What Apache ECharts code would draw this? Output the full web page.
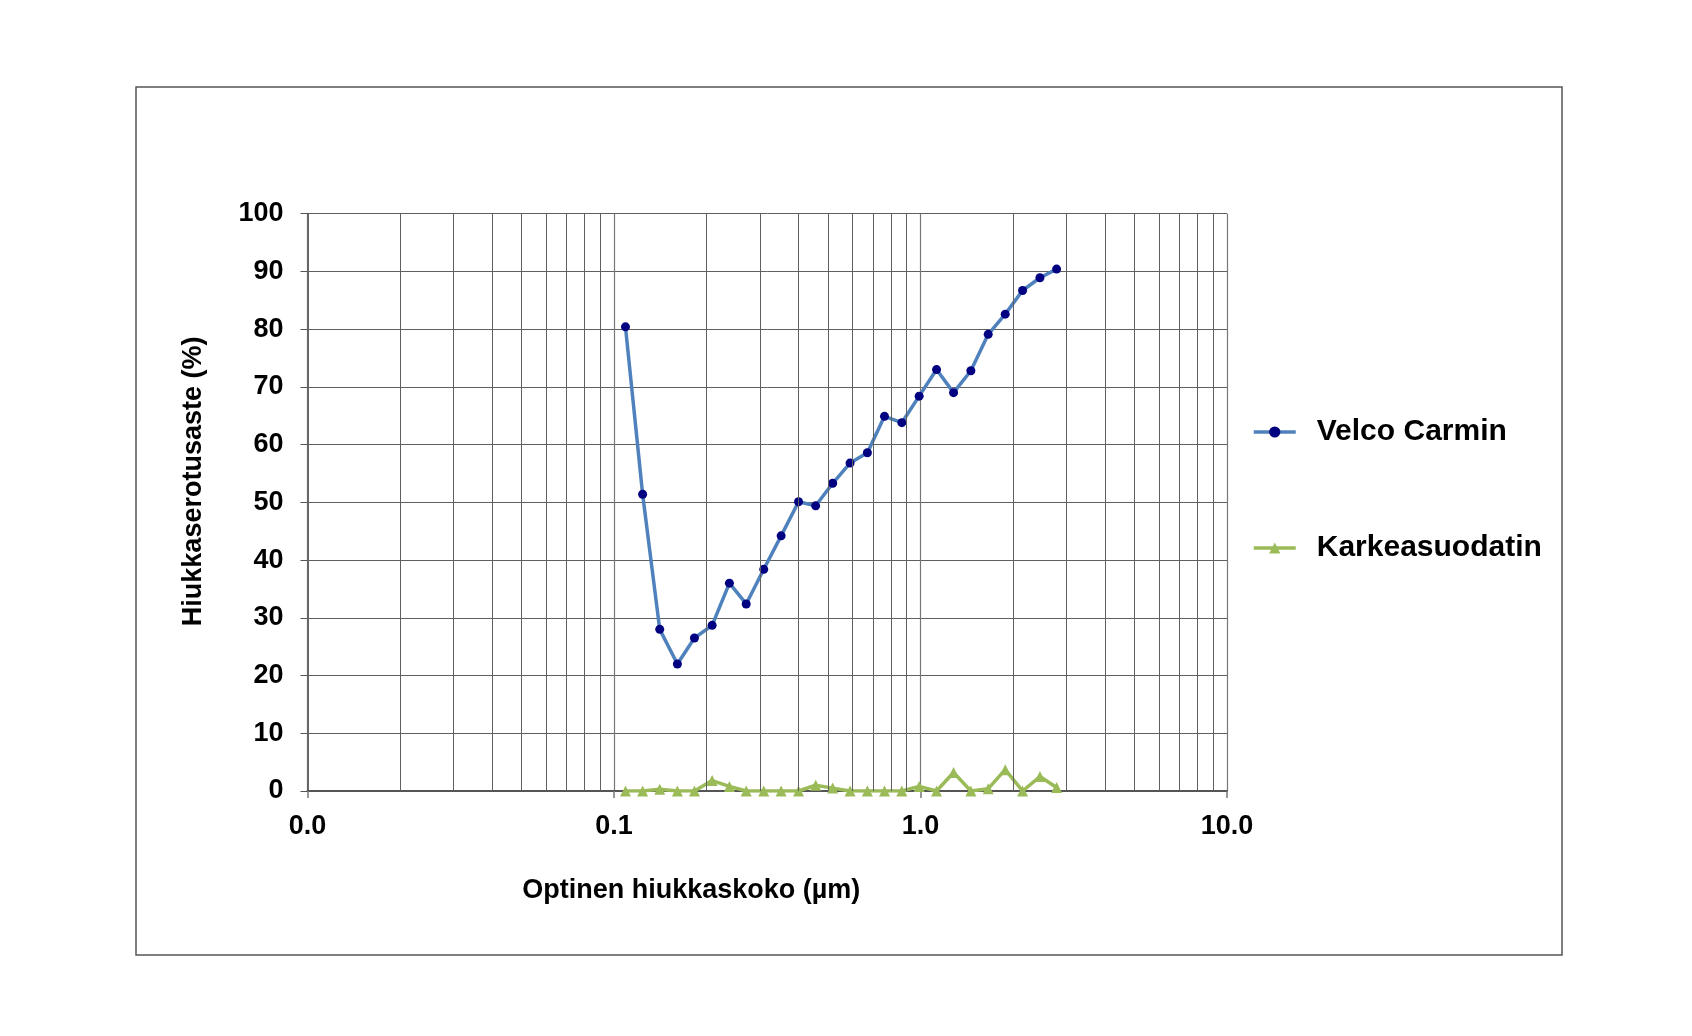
<!DOCTYPE html>
<html>
<head>
<meta charset="utf-8">
<script src="https://cdn.jsdelivr.net/npm/echarts@6/dist/echarts.min.js"></script>
<style>
  html, body { margin: 0; padding: 0; background: #fff; }
  #chart { width: 1692px; height: 1036px; }
</style>
</head>
<body>
<div id="chart"></div>
<script>
(function () {
  "use strict";
  const chart = echarts.init(document.getElementById("chart"));

  // luettu kuvasta: optinen hiukkaskoko (µm)
  const SIZES = [0.109, 0.124, 0.141, 0.161, 0.183, 0.209, 0.238, 0.270, 0.308, 0.351,
    0.400, 0.455, 0.517, 0.589, 0.671, 0.763, 0.869, 0.990, 1.128, 1.282,
    1.460, 1.663, 1.890, 2.153, 2.453, 2.780];
  const VELCO = [80.4, 51.4, 28.0, 22.0, 26.5, 28.7, 36.0, 32.4, 38.4, 44.2,
    50.1, 49.4, 53.3, 56.8, 58.6, 64.9, 63.8, 68.4, 73.0, 69.0,
    72.8, 79.1, 82.6, 86.7, 88.9, 90.4];
  const KARKEA = [0, 0, 0.3, 0, 0, 1.8, 0.8, 0, 0, 0,
    0, 1.0, 0.5, 0, 0, 0, 0, 0.8, 0, 3.2,
    0, 0.4, 3.7, 0, 2.5, 0.6];
  const MINOR_X = [0.02, 0.03, 0.04, 0.05, 0.06, 0.07, 0.08, 0.09,
    0.2, 0.3, 0.4, 0.5, 0.6, 0.7, 0.8, 0.9,
    2, 3, 4, 5, 6, 7, 8, 9];

  const FONT = "'Liberation Sans', Arial, sans-serif";
  const txt = { fontFamily: FONT, fontWeight: "bold", color: "#000" };
  const GRID_COLOR = "#5f5f5f";

  const pairs = ys => SIZES.map((x, i) => [x, ys[i]]);

  chart.setOption({
    animation: false,
    backgroundColor: "#fff",
    graphic: [
      { type: "rect", shape: { x: 136, y: 87, width: 1426, height: 868 }, style: { fill: "none", stroke: "#555", lineWidth: 1.5 }, z: -1 },
    ],
    grid: { left: 307.5, top: 213.7, right: 465, bottom: 245 },
    legend: {
      orient: "vertical",
      left: 1247,
      top: 412,
      itemGap: 86,
      itemWidth: 42,
      itemHeight: 14,
      data: ["Velco Carmin", "Karkeasuodatin"],
      lineStyle: { width: 3.5 },
      textStyle: Object.assign({ fontSize: 30, padding: [0, 0, 0, 16] }, txt),
    },
    xAxis: {
      type: "log",
      logBase: 10,
      min: 0.01,
      max: 10,
      name: "Optinen hiukkaskoko (µm)",
      nameLocation: "middle",
      nameGap: 86,
      nameTextStyle: Object.assign({ fontSize: 27, padding: [0, 152, 0, 0] }, txt),
      axisLine: { lineStyle: { color: "#555", width: 2 } },
      axisTick: { show: true, length: 7, lineStyle: { color: "#777", width: 1.5 } },
      axisLabel: Object.assign({ fontSize: 27, margin: 22, formatter: v => (+v).toFixed(1) }, txt),
      splitLine: { show: true, lineStyle: { color: "#777", width: 1.2 } },
    },
    yAxis: {
      type: "value",
      min: 0,
      max: 100,
      interval: 10,
      name: "Hiukkaserotusaste (%)",
      nameLocation: "middle",
      nameGap: 100,
      nameTextStyle: Object.assign({ fontSize: 27, padding: [0, 0, 0, 42] }, txt),
      axisLine: { show: true, lineStyle: { color: "#666", width: 2 } },
      axisTick: { show: true, length: 7, lineStyle: { color: "#555" } },
      axisLabel: Object.assign({ fontSize: 27, margin: 24 }, txt),
      splitLine: { show: true, lineStyle: { color: GRID_COLOR, width: 1 } },
    },
    series: [
      {
        name: "minor",
        type: "line",
        data: [],
        z: 1,
        silent: true,
        markLine: {
          silent: true,
          symbol: ["none", "none"],
          label: { show: false },
          lineStyle: { color: GRID_COLOR, width: 1, type: "solid" },
          data: MINOR_X.map(v => ({ xAxis: v })),
        },
      },
      {
        name: "Velco Carmin",
        type: "line",
        data: pairs(VELCO),
        z: 3,
        symbol: "circle",
        symbolSize: 9,
        showSymbol: true,
        lineStyle: { color: "#4F81BD", width: 3.5 },
        itemStyle: { color: "#000080", borderWidth: 0 },
      },
      {
        name: "Karkeasuodatin",
        type: "line",
        data: pairs(KARKEA),
        z: 3,
        symbol: "triangle",
        symbolSize: 11,
        showSymbol: true,
        lineStyle: { color: "#9BBB59", width: 3.5 },
        itemStyle: { color: "#9BBB59", borderWidth: 0 },
      },
    ],
  });

  window.addEventListener("resize", () => chart.resize());
})();
</script>
</body>
</html>
